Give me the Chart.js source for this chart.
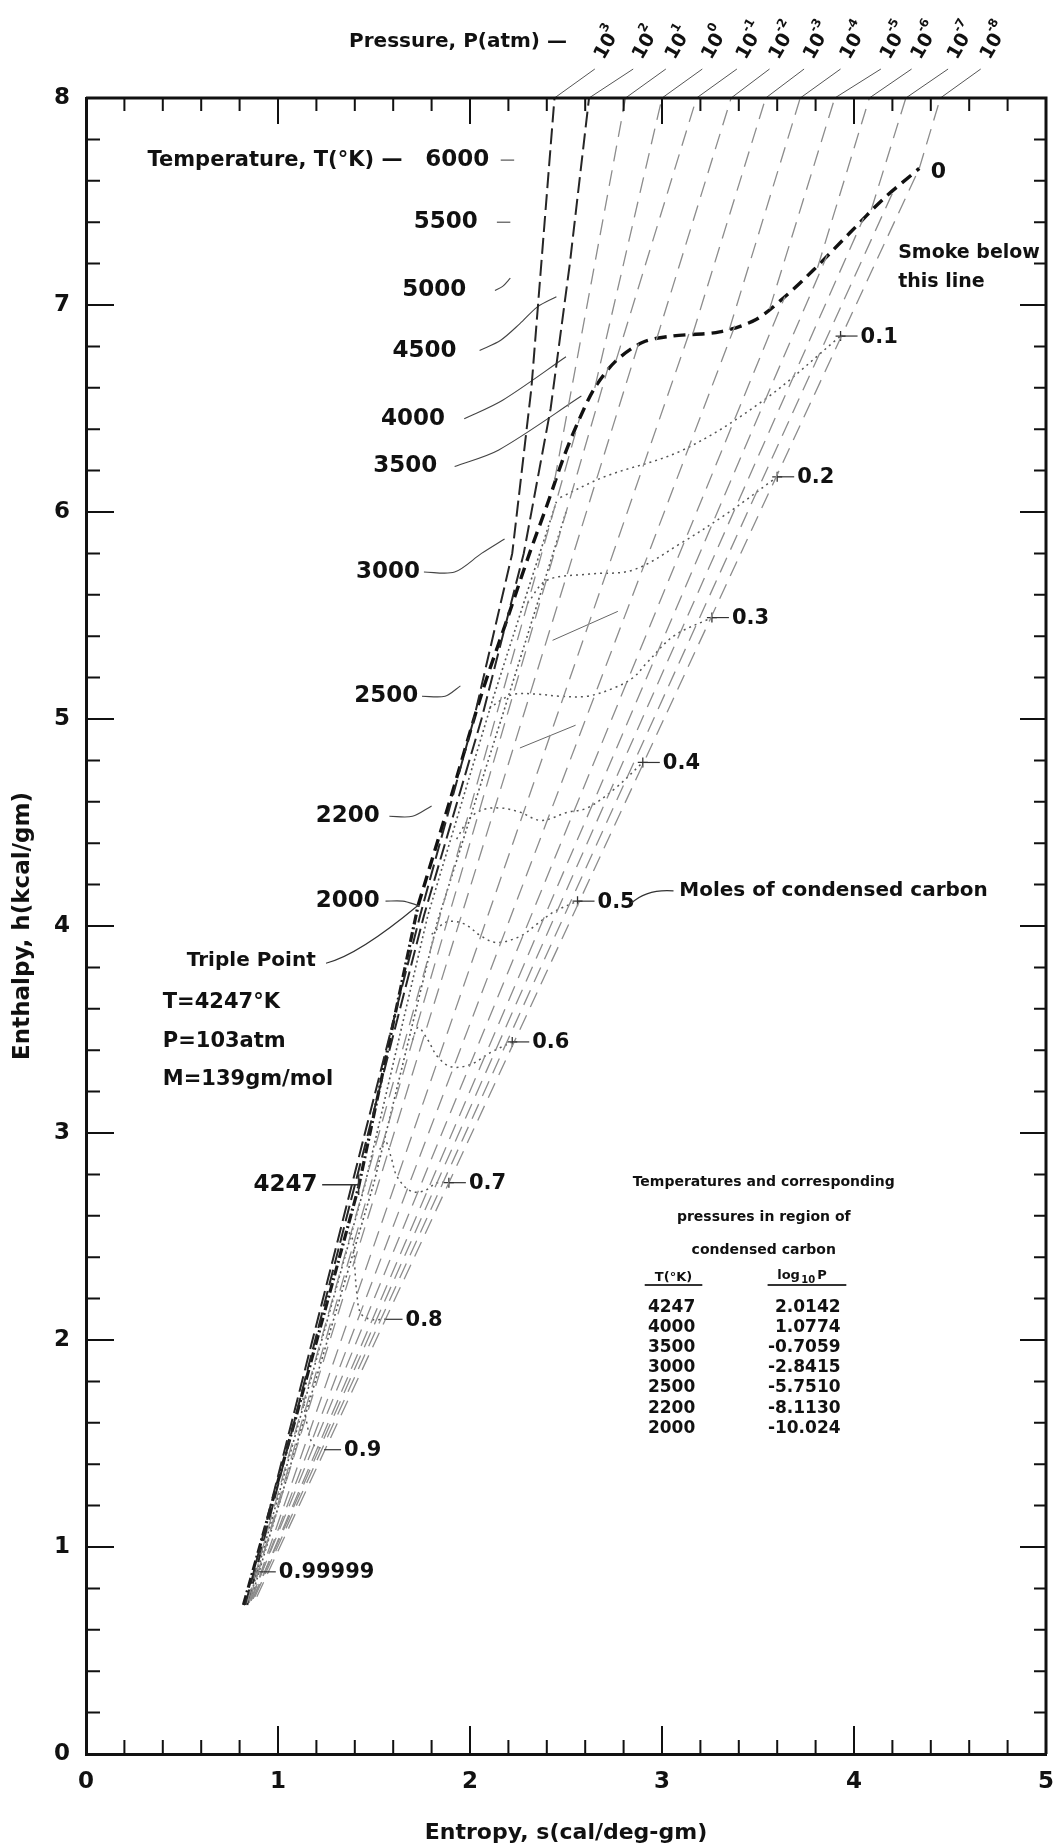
<!DOCTYPE html>
<html>
<head>
<meta charset="utf-8">
<script src="https://cdn.jsdelivr.net/npm/chart.js@4.4.1/dist/chart.umd.min.js"></script>
<style>
  html, body { margin: 0; padding: 0; background: #fff; }
  #wrap { width: 1054px; height: 1846px; }
</style>
</head>
<body>
<div id="wrap"><canvas id="mollier" width="1054" height="1846"></canvas></div>
<script>
// ====== データ ======
// 軸
const xTickValues = [0, 1, 2, 3, 4, 5];
const yTickValues = [0, 1, 2, 3, 4, 5, 6, 7, 8];

// 煙線（凝縮炭素 0 モル）
const smokeS = [1.73, 1.90, 2.06, 2.20, 2.31, 2.40, 2.49, 2.57, 2.65, 2.76, 2.90, 3.05, 3.30, 3.49, 3.64, 3.79, 3.98, 4.15, 4.34];
const smokeH = [4.10, 4.62, 5.12, 5.50, 5.80, 6.03, 6.27, 6.45, 6.60, 6.73, 6.82, 6.85, 6.87, 6.93, 7.04, 7.17, 7.35, 7.51, 7.66];

// 固体側の太い線
const solidS = [0.82, 1.10, 1.42, 1.73];
const solidH = [0.72, 1.65, 2.74, 4.10];

// 気相の等圧線 10^3 ... 10^-8（上端が枠に当たる）
const pressureExp = ['3', '2', '1', '0', '-1', '-2', '-3', '-4', '-5', '-6', '-7', '-8'];
const isobarS = [
  [0.83, 1.74, 2.02, 2.22, 2.32, 2.38, 2.44],
  [0.84, 1.76, 2.06, 2.28, 2.42, 2.52, 2.62],
  [2.44, 2.81],
  [2.65, 3.00],
  [2.76, 3.18],
  [2.97, 3.36],
  [3.16, 3.54],
  [3.35, 3.72],
  [3.56, 3.90],
  [3.81, 4.08],
  [4.09, 4.27],
  [4.34, 4.45]
];
const isobarH = [
  [0.72, 4.05, 5.00, 5.80, 6.60, 7.30, 8.00],
  [0.72, 4.05, 5.00, 5.80, 6.50, 7.20, 8.00],
  [6.15, 8.00],
  [6.60, 8.00],
  [6.73, 8.00],
  [6.83, 8.00],
  [6.86, 8.00],
  [6.88, 8.00],
  [6.98, 8.00],
  [7.18, 8.00],
  [7.46, 8.00],
  [7.66, 8.00]
];
const pressureLabelS = [2.71, 2.91, 3.08, 3.27, 3.45, 3.62, 3.80, 3.99, 4.20, 4.36, 4.55, 4.72];

// 凝縮域の直線（固体側から煙線まで）
const condS = [[0.84, 2.57], [0.85, 2.72], [0.85, 2.88], [0.86, 3.14], [0.86, 3.38],
               [0.86, 3.64], [0.87, 3.86], [0.87, 4.05], [0.88, 4.20], [0.89, 4.34]];
const condH = [[0.73, 6.45], [0.73, 6.70], [0.74, 6.82], [0.74, 6.86], [0.74, 6.90],
               [0.75, 7.04], [0.75, 7.24], [0.75, 7.42], [0.76, 7.54], [0.76, 7.66]];

// 束の中の点線
const bundleDotS = [[0.85, 1.45, 1.78, 2.12, 2.45], [0.86, 1.50, 1.83, 2.18, 2.50]];
const bundleDotH = [[0.74, 2.74, 4.05, 5.10, 6.05], [0.75, 2.76, 4.02, 5.05, 6.00]];

// 凝縮炭素のモル数（点線）
const fracLabels = ['0.1', '0.2', '0.3', '0.4', '0.5', '0.6', '0.7', '0.8', '0.9', '0.99999'];
const fracS = [
  [2.47, 2.70, 3.11, 3.53, 3.93],
  [2.30, 2.40, 2.62, 2.85, 3.10, 3.35, 3.60],
  [2.10, 2.16, 2.23, 2.35, 2.47, 2.61, 2.75, 2.85, 2.92, 3.06, 3.26],
  [1.93, 1.99, 2.06, 2.16, 2.26, 2.37, 2.51, 2.61, 2.75, 2.90],
  [1.80, 1.88, 1.97, 2.06, 2.14, 2.26, 2.35, 2.44, 2.56],
  [1.70, 1.73, 1.78, 1.83, 1.90, 2.00, 2.11, 2.22],
  [1.53, 1.56, 1.59, 1.62, 1.69, 1.76, 1.83, 1.89],
  [1.37, 1.39, 1.40, 1.41, 1.43, 1.48, 1.56],
  [1.13, 1.15, 1.18, 1.24],
  [0.87, 0.90]
];
const fracH = [
  [6.07, 6.17, 6.30, 6.54, 6.85],
  [5.56, 5.67, 5.70, 5.72, 5.85, 6.00, 6.17],
  [5.05, 5.09, 5.12, 5.12, 5.11, 5.11, 5.15, 5.20, 5.27, 5.40, 5.49],
  [4.42, 4.51, 4.56, 4.57, 4.55, 4.51, 4.55, 4.57, 4.66, 4.79],
  [3.96, 4.02, 4.01, 3.95, 3.92, 3.95, 4.01, 4.07, 4.12],
  [3.45, 3.51, 3.45, 3.37, 3.32, 3.33, 3.39, 3.44],
  [2.92, 2.96, 2.88, 2.79, 2.72, 2.72, 2.76, 2.76],
  [2.52, 2.48, 2.35, 2.23, 2.13, 2.10, 2.10],
  [1.72, 1.60, 1.50, 1.47],
  [0.85, 0.88]
];

// 温度（等温線と引出し線）
const tempLabels = ['6000', '5500', '5000', '4500', '4000', '3500', '3000', '2500', '2200', '2000'];
const isoS = [
  [2.16, 2.23],
  [2.14, 2.21],
  [2.13, 2.17, 2.21],
  [2.05, 2.16, 2.26, 2.35, 2.45],
  [1.97, 2.17, 2.50],
  [1.92, 2.15, 2.58],
  [1.76, 1.92, 2.06, 2.18],
  [1.75, 1.87, 1.95],
  [1.58, 1.70, 1.80],
  [1.56, 1.65, 1.73]
];
const isoH = [
  [7.70, 7.70],
  [7.40, 7.40],
  [7.07, 7.09, 7.13],
  [6.78, 6.83, 6.91, 6.99, 7.04],
  [6.45, 6.54, 6.75],
  [6.22, 6.30, 6.56],
  [5.71, 5.71, 5.80, 5.87],
  [5.11, 5.11, 5.16],
  [4.53, 4.53, 4.58],
  [4.12, 4.12, 4.10]
];
const extraIsoS = [[2.43, 2.77], [2.26, 2.55]];
const extraIsoH = [[5.38, 5.52], [4.86, 4.97]];

// 表：凝縮域での温度と圧力
const tableT = ['4247', '4000', '3500', '3000', '2500', '2200', '2000'];
const tableLogP = ['2.0142', '1.0774', '-0.7059', '-2.8415', '-5.7510', '-8.1130', '-10.024'];

// ====== 描画 ======
const FONT = '"DejaVu Sans", sans-serif';
const pts = (S, H) => S.map((s, i) => ({ x: s, y: H[i] }));
const datasets = [];

function addLine(S, H, style) {
  datasets.push(Object.assign({
    data: pts(S, H), showLine: true, pointRadius: 0, fill: false,
    tension: 0, borderColor: '#777', borderWidth: 1.2
  }, style));
}

// 凝縮域の直線
condS.forEach((S, k) => addLine(S, condH[k], { borderColor: '#8c8c8c', borderWidth: 1.3, borderDash: [16, 9] }));

// 等圧線
isobarS.forEach((S, k) => {
  const dark = k < 2;
  addLine(S, isobarH[k], {
    borderColor: dark ? '#262626' : '#8c8c8c',
    borderWidth: dark ? 2 : 1.3,
    borderDash: dark ? [16, 6] : [16, 9]
  });
  // 上のラベルへの引出し線
  addLine([S[S.length - 1], pressureLabelS[k] - 0.06], [isobarH[k][S.length - 1], 8.14],
    { borderColor: '#555', borderWidth: 1, clip: false });
});

bundleDotS.forEach((S, k) => addLine(S, bundleDotH[k], { borderColor: '#555', borderWidth: 1.6, borderDash: [2, 3] }));

// 凝縮炭素の点線
fracS.forEach((S, k) => addLine(S, fracH[k], { borderColor: '#555', borderWidth: 1.5, borderDash: [2, 4], tension: 0.35 }));
datasets.push({
  data: fracS.slice(0, 7).map((S, k) => ({ x: S[S.length - 1], y: fracH[k][S.length - 1] })),
  showLine: false, pointStyle: 'cross', pointRadius: 5, borderColor: '#333', borderWidth: 1.3
});

// 等温線
isoS.forEach((S, k) => addLine(S, isoH[k], { borderColor: '#444', borderWidth: 1.1, tension: 0.3 }));
extraIsoS.forEach((S, k) => addLine(S, extraIsoH[k], { borderColor: '#666', borderWidth: 1 }));

// 固体線と煙線
addLine(solidS, solidH, { borderColor: '#1a1a1a', borderWidth: 3.2, borderDash: [10, 3, 2, 3] });
addLine(smokeS, smokeH, { borderColor: '#111', borderWidth: 3.4, borderDash: [12, 7], tension: 0.3 });

// 枠・内向き目盛・注記
const annotate = {
  id: 'annotate',
  afterDatasetsDraw(chart) {
    const { ctx, chartArea: a, scales: { x, y } } = chart;
    const px = s => x.getPixelForValue(s);
    const py = h => y.getPixelForValue(h);
    ctx.save();

    // 上と右の枠
    ctx.strokeStyle = '#111';
    ctx.lineWidth = 3;
    ctx.beginPath();
    ctx.moveTo(a.left, a.top); ctx.lineTo(a.right, a.top); ctx.lineTo(a.right, a.bottom);
    ctx.stroke();

    // 目盛（0.2 刻み）
    ctx.lineWidth = 2;
    ctx.beginPath();
    for (let i = 1; i < 25; i++) {
      const X = px(i / 5), big = i % 5 === 0;
      ctx.moveTo(X, a.bottom); ctx.lineTo(X, a.bottom - (big ? 28 : 14));
      ctx.moveTo(X, a.top); ctx.lineTo(X, a.top + (big ? 26 : 13));
    }
    for (let i = 1; i < 40; i++) {
      const Y = py(i / 5), big = i % 5 === 0;
      ctx.moveTo(a.left, Y); ctx.lineTo(a.left + (big ? 28 : 14), Y);
      ctx.moveTo(a.right, Y); ctx.lineTo(a.right - (big ? 26 : 12), Y);
    }
    ctx.stroke();

    ctx.fillStyle = '#111';
    ctx.strokeStyle = '#333';
    ctx.lineWidth = 1.2;
    const text = (str, s, h, align, size, weight) => {
      ctx.font = (weight || 'bold') + ' ' + size + 'px ' + FONT;
      ctx.textAlign = align;
      ctx.textBaseline = 'middle';
      ctx.fillText(str, px(s), py(h));
    };

    // 圧力ラベル
    text('Pressure, P(atm) \u2014', 1.37, 8.27, 'left', 20);
    pressureExp.forEach((e, i) => {
      ctx.save();
      ctx.translate(px(pressureLabelS[i]), py(8.27));
      ctx.rotate(-Math.PI / 3);
      ctx.font = 'bold 19px ' + FONT;
      ctx.textAlign = 'center';
      ctx.textBaseline = 'middle';
      ctx.fillText('10', -4, 2);
      ctx.font = 'bold 12px ' + FONT;
      ctx.textAlign = 'left';
      ctx.fillText(e, 8, -8);
      ctx.restore();
    });

    // 温度ラベル
    text('Temperature, T(\u00b0K) \u2014', 0.32, 7.70, 'left', 21);
    const tempRight = [2.10, 2.04, 1.98, 1.93, 1.87, 1.83, 1.74, 1.73, 1.53, 1.53];
    tempLabels.forEach((t, i) => text(t, tempRight[i], isoH[i][0], 'right', 23));

    // 三重点
    text('Triple Point', 0.525, 3.83, 'left', 20);
    text('T=4247\u00b0K', 0.40, 3.63, 'left', 21);
    text('P=103atm', 0.40, 3.44, 'left', 21);
    text('M=139gm/mol', 0.40, 3.26, 'left', 21);
    ctx.beginPath();
    ctx.moveTo(px(1.25), py(3.82));
    ctx.quadraticCurveTo(px(1.42), py(3.86), px(1.73), py(4.10));
    ctx.stroke();
    text('4247', 1.206, 2.75, 'right', 23);
    ctx.lineWidth = 1.6;
    ctx.beginPath();
    ctx.moveTo(px(1.23), py(2.75)); ctx.lineTo(px(1.42), py(2.75));
    ctx.moveTo(px(1.42), py(2.70)); ctx.lineTo(px(1.42), py(2.80));
    ctx.stroke();
    ctx.lineWidth = 1.2;

    // モル数ラベル
    fracLabels.forEach((lab, k) => {
      const S = fracS[k], H = fracH[k];
      const X = px(S[S.length - 1]), Y = py(H[H.length - 1]);
      ctx.beginPath(); ctx.moveTo(X, Y); ctx.lineTo(X + 17, Y); ctx.stroke();
      ctx.font = 'bold 21px ' + FONT;
      ctx.textAlign = 'left';
      ctx.textBaseline = 'middle';
      ctx.fillText(lab, X + 20, Y + 1);
    });
    ctx.beginPath();
    ctx.moveTo(px(2.84), py(4.11));
    ctx.quadraticCurveTo(px(2.92), py(4.18), px(3.06), py(4.17));
    ctx.stroke();
    text('Moles of condensed carbon', 3.09, 4.17, 'left', 20);

    text('0', 4.40, 7.64, 'left', 22);
    text('Smoke below', 4.23, 7.25, 'left', 19);
    text('this line', 4.23, 7.11, 'left', 19);

    // 表
    text('Temperatures and corresponding', 3.53, 2.763, 'center', 14);
    text('pressures in region of', 3.53, 2.594, 'center', 14);
    text('condensed carbon', 3.53, 2.435, 'center', 14);
    text('T(\u00b0K)', 3.06, 2.30, 'center', 13);
    ctx.font = 'bold 13px ' + FONT;
    ctx.textAlign = 'left';
    ctx.fillText('log', px(3.60), py(2.31));
    ctx.font = 'bold 10px ' + FONT;
    ctx.fillText('10', px(3.60) + 24, py(2.31) + 5);
    ctx.font = 'bold 13px ' + FONT;
    ctx.fillText('P', px(3.60) + 40, py(2.31));
    ctx.lineWidth = 2;
    ctx.beginPath();
    ctx.moveTo(px(2.91), py(2.266)); ctx.lineTo(px(3.21), py(2.266));
    ctx.moveTo(px(3.55), py(2.266)); ctx.lineTo(px(3.96), py(2.266));
    ctx.stroke();
    tableT.forEach((t, i) => {
      const h = 2.159 - i * 0.0976;
      text(t, 3.05, h, 'center', 17);
      text(tableLogP[i], 3.93, h, 'right', 17);
    });

    ctx.restore();
  }
};

new Chart(document.getElementById('mollier'), {
  type: 'scatter',
  data: { datasets },
  options: {
    responsive: false,
    animation: false,
    devicePixelRatio: 1,
    layout: { autoPadding: false, padding: { top: 98, right: 8, bottom: 0, left: 0 } },
    plugins: { legend: { display: false }, tooltip: { enabled: false } },
    scales: {
      x: {
        type: 'linear', min: 0, max: 5, position: 'bottom',
        afterFit: s => { s.height = 92; s.paddingLeft = 0; s.paddingRight = 0; },
        afterBuildTicks: s => { s.ticks = xTickValues.map(v => ({ value: v })); },
        grid: { display: false, drawTicks: false },
        border: { display: true, color: '#111', width: 3 },
        ticks: { padding: 14, color: '#111', font: { family: FONT, size: 23, weight: 'bold' } },
        title: { display: true, text: 'Entropy, s(cal/deg-gm)', color: '#111',
                 padding: { top: 0, bottom: 0 }, font: { family: FONT, size: 22, weight: 'bold' } }
      },
      y: {
        type: 'linear', min: 0, max: 8,
        afterFit: s => { s.width = 86; s.paddingTop = 0; s.paddingBottom = 0; },
        afterBuildTicks: s => { s.ticks = yTickValues.map(v => ({ value: v })); },
        grid: { display: false, drawTicks: false },
        border: { display: true, color: '#111', width: 3 },
        ticks: { padding: 16, color: '#111', font: { family: FONT, size: 23, weight: 'bold' } },
        title: { display: true, text: 'Enthalpy, h(kcal/gm)', color: '#111',
                 padding: { top: 9, bottom: 0 }, font: { family: FONT, size: 23, weight: 'bold' } }
      }
    }
  },
  plugins: [annotate]
});
</script>
</body>
</html>
